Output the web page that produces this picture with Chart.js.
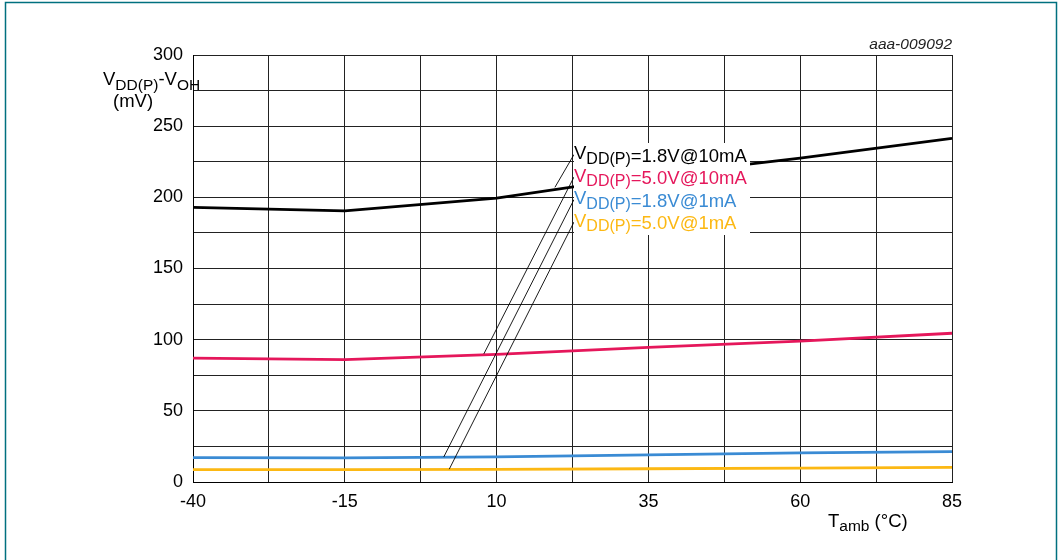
<!DOCTYPE html>
<html>
<head>
<meta charset="utf-8">
<script src="https://cdn.jsdelivr.net/npm/chart.js@4.4.1/dist/chart.umd.min.js"></script>
<style>
  html, body { margin: 0; padding: 0; background: #fff; }
  canvas { display: block; }
</style>
</head>
<body>
<canvas id="chart" width="1060" height="560"></canvas>
<script>
const temps = [-40, -15, 10, 35, 60, 85]; // Tamb (°C)
const v18at10 = [193, 190.5, 199.5, 215, 227.5, 241.5];
const v50at10 = [87, 86, 89.7, 94.6, 99, 104.5];
const v18at1 = [17.1, 16.9, 17.6, 19, 20.4, 21.3];
const v50at1 = [8.7, 8.7, 8.9, 9.3, 9.8, 10.3];
const seriesNames = ["=1.8V@10mA", "=5.0V@10mA", "=1.8V@1mA", "=5.0V@1mA"];
const seriesColors = ["#000000", "#e5175b", "#3a8bd4", "#fcb813"];
// where each leader line touches its curve (°C, mV)
const leaderTargets = [[19.6, 207], [7.9, 90], [1.3, 17.6], [2.2, 9]];

const FONT = "'Liberation Sans', Arial, sans-serif";

function toPoints(arr) {
  return temps.map((t, i) => ({ x: t, y: arr[i] }));
}

// draws a run of text pieces with different sizes / baseline shifts
function drawParts(ctx, x, y, parts, color) {
  ctx.fillStyle = color;
  ctx.textAlign = "left";
  ctx.textBaseline = "alphabetic";
  for (const p of parts) {
    ctx.font = (p.italic ? "italic " : "") + p.s + "px " + FONT;
    ctx.fillText(p.t, x, y + (p.dy || 0));
    x += ctx.measureText(p.t).width;
  }
  return x;
}

const annotations = {
  id: "annotations",
  afterDatasetsDraw(chart) {
    const ctx = chart.ctx;
    const xs = chart.scales.x, ys = chart.scales.y;
    const area = chart.chartArea;
    const boxX = xs.getPixelForValue(22.5) + 1.5;
    const rows = [106.5, 129, 151.5, 174].map(d => area.top + d);

    ctx.save();
    // leader lines
    ctx.strokeStyle = "#000";
    ctx.lineWidth = 0.9;
    leaderTargets.forEach((tg, i) => {
      ctx.beginPath();
      ctx.moveTo(boxX, rows[i] - 7);
      ctx.lineTo(xs.getPixelForValue(tg[0]), ys.getPixelForValue(tg[1]));
      ctx.stroke();
    });
    // label box
    ctx.fillStyle = "#fff";
    ctx.fillRect(boxX, area.top + 88, 176, 92);
    seriesNames.forEach((name, i) => {
      drawParts(ctx, boxX, rows[i], [
        { t: "V", s: 18.5, dy: -2.5 },
        { t: "DD(P)", s: 16, dy: 2 },
        { t: name, s: 18.5 }
      ], seriesColors[i]);
    });
    ctx.restore();
  },
  afterDraw(chart) {
    const ctx = chart.ctx;
    const area = chart.chartArea;
    ctx.save();
    // axis titles
    drawParts(ctx, 103, 85, [
      { t: "V", s: 18.5 }, { t: "DD(P)", s: 15.5, dy: 5 },
      { t: "-V", s: 18.5 }, { t: "OH", s: 15.5, dy: 5 }
    ], "#000");
    drawParts(ctx, 113, 107, [{ t: "(mV)", s: 18.5 }], "#000");
    drawParts(ctx, 828, 527, [
      { t: "T", s: 18.5 }, { t: "amb", s: 15.5, dy: 4 }, { t: " (°C)", s: 18.5 }
    ], "#000");
    // figure id
    ctx.font = "italic 15.5px " + FONT;
    ctx.fillStyle = "#222";
    ctx.textAlign = "right";
    ctx.fillText("aaa-009092", area.right, 49);
    // outer frame
    ctx.strokeStyle = "#00707f";
    ctx.lineWidth = 1.5;
    ctx.beginPath();
    ctx.moveTo(5.5, 560);
    ctx.lineTo(5.5, 2.5);
    ctx.lineTo(1056.5, 2.5);
    ctx.lineTo(1056.5, 560);
    ctx.stroke();
    ctx.restore();
  }
};

const allSeries = [v18at10, v50at10, v18at1, v50at1];

new Chart(document.getElementById("chart").getContext("2d"), {
  type: "line",
  data: {
    datasets: allSeries.map((arr, i) => ({
      label: seriesNames[i],
      data: toPoints(arr),
      borderColor: seriesColors[i],
      borderWidth: 2.8,
      pointRadius: 0,
      tension: 0,
      fill: false
    }))
  },
  options: {
    responsive: false,
    animation: false,
    events: [],
    layout: { padding: { top: 55, right: 108, left: 0, bottom: 0 } },
    plugins: { legend: { display: false }, tooltip: { enabled: false } },
    scales: {
      x: {
        type: "linear",
        min: -40,
        max: 85,
        afterFit: s => { s.height = 78; },
        ticks: {
          stepSize: 12.5,
          autoSkip: false,
          maxRotation: 0,
          padding: 9,
          color: "#000",
          font: { family: FONT, size: 18 },
          callback: v => {
            const k = (v + 40) / 25;
            return Math.abs(k - Math.round(k)) < 1e-6 ? Math.round(v) : "";
          }
        },
        grid: { color: "#222", lineWidth: 1, drawTicks: false },
        border: { color: "#000", width: 1 }
      },
      y: {
        min: 0,
        max: 300,
        afterFit: s => { s.width = 193; },
        ticks: {
          stepSize: 25,
          autoSkip: false,
          padding: 10,
          color: "#000",
          font: { family: FONT, size: 18 },
          callback: v => (v % 50 === 0 ? v : "")
        },
        grid: { color: "#222", lineWidth: 1, drawTicks: false },
        border: { color: "#000", width: 1 }
      }
    }
  },
  plugins: [annotations]
});
</script>
</body>
</html>
